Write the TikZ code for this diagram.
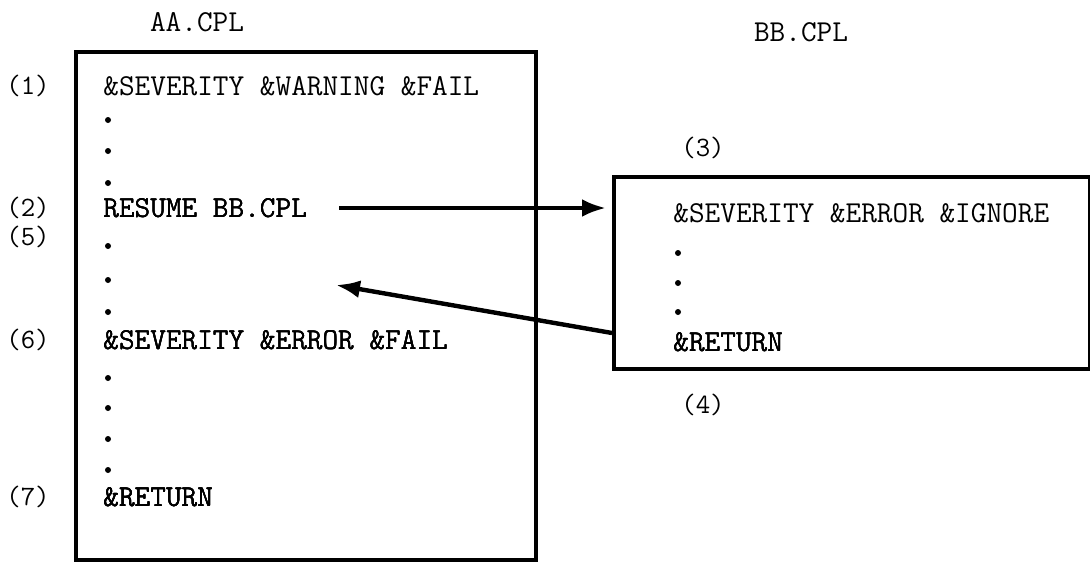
\documentclass[tikz,border=0pt]{standalone}
\usetikzlibrary{arrows.meta}

\tikzset{
  listing/.style={anchor=west, inner sep=0pt, font=\ttfamily\fontsize{15.2}{17}\selectfont},
  stepno/.style={anchor=center, inner sep=0pt, font=\ttfamily\fontsize{14}{16}\selectfont},
  filebox/.style={draw, line width=1.8pt, anchor=north west, inner sep=0pt},
  call/.style={->, line width=2.2pt},
}
\newcommand{\listdot}[2]{\fill (#1,#2) circle (1.5pt);}

\begin{document}
\begin{tikzpicture}[x=0.5pt, y=-0.5pt, >={Latex[length=12pt,width=9pt]}]
    % Khung ảnh
    \useasboundingbox (0,0) rectangle (1090,562);

    % ==================== TỆP AA.CPL ====================
    \node[listing, anchor=center] (aaname) at (197,22) {AA.CPL};
    \node[filebox, minimum width=230pt, minimum height=254pt] (aabox) at (74,50) {};

    \node[listing] (aasev) at (103,86) {\&SEVERITY \&WARNING \&FAIL};
    \foreach \y in {120,151,183} \listdot{108}{\y}
    \node[listing] (resume) at (103,208) {RESUME BB.CPL};
    \foreach \y in {246,280,312} \listdot{108}{\y}
    \node[listing] (aaerr) at (103,340) {\&SEVERITY \&ERROR \&FAIL};
    \foreach \y in {378,408,439,470} \listdot{108}{\y}
    \node[listing] (aaret) at (103,497) {\&RETURN};

    % Số thứ tự các bước
    \node[stepno] (s1) at (28,86) {(1)};
    \node[stepno] (s2) at (28,208) {(2)};
    \node[stepno] (s5) at (28,237) {(5)};
    \node[stepno] (s6) at (28,340) {(6)};
    \node[stepno] (s7) at (28,497) {(7)};

    % ==================== TỆP BB.CPL ====================
    \node[listing, anchor=center] (bbname) at (801,32) {BB.CPL};
    \node[filebox, minimum width=238pt, minimum height=96pt] (bbbox) at (612,175) {};

    \node[listing] (bbsev) at (673,213) {\&SEVERITY \&ERROR \&IGNORE};
    \foreach \y in {253,283,312} \listdot{678}{\y}
    \node[listing] (bbret) at (673,342) {\&RETURN};

    \node[stepno] (s3) at (703,148) {(3)};
    \node[stepno] (s4) at (703,405) {(4)};

    % ==================== MŨI TÊN GỌI / TRẢ VỀ ====================
    \coordinate (callin) at (606,208);
    \coordinate (retout) at (612,333);
    \coordinate (retin) at (336,285);
    \draw[call] ([xshift=16pt]resume.east) -- (callin);
    \draw[call] (retout) -- (retin);
\end{tikzpicture}
\end{document}
